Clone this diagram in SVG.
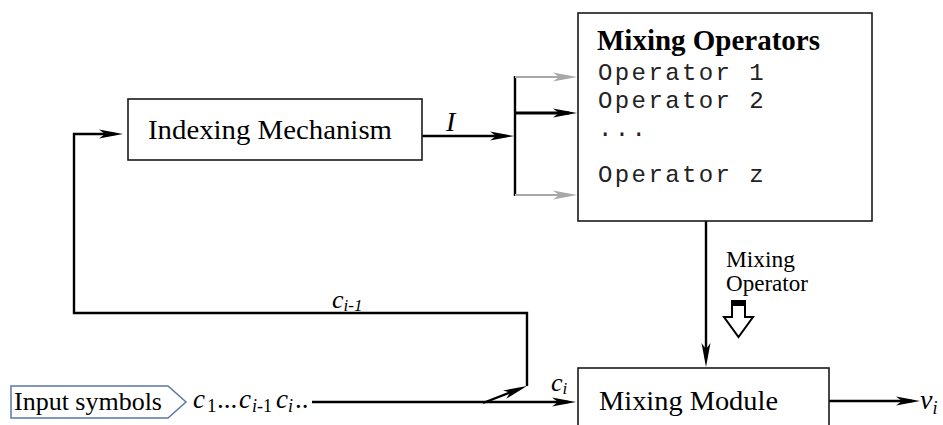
<svg xmlns="http://www.w3.org/2000/svg" width="943" height="425" viewBox="0 0 943 425">
  <style>
    .box { fill: #ffffff; stroke: #1a1a1a; stroke-width: 1.6; }
    .wire { fill: none; stroke: #000000; stroke-width: 2.4; }
    .wire-thick { fill: none; stroke: #000000; stroke-width: 3.2; }
    .wire-gray { fill: none; stroke: #a8a8a8; stroke-width: 2.2; }
    .serif { font-family: "Liberation Serif", "Times New Roman", serif; fill: #000000; }
    .mono { font-family: "Liberation Mono", "Courier New", monospace; fill: #222222; font-size: 24px; letter-spacing: 2.4px; }
    .it { font-style: italic; }
  </style>
  <defs>
    <marker id="ah" viewBox="-24 -5 24 10" refX="-8" refY="0" markerWidth="24" markerHeight="10" markerUnits="userSpaceOnUse" orient="auto">
      <path d="M0,0 L-24,-4.5 L-18,0 L-24,4.5 Z" fill="#000000"/>
    </marker>
    <marker id="ah-gray" viewBox="-24 -5 24 10" refX="-8" refY="0" markerWidth="24" markerHeight="10" markerUnits="userSpaceOnUse" orient="auto">
      <path d="M0,0 L-24,-4.5 L-18,0 L-24,4.5 Z" fill="#a8a8a8"/>
    </marker>
  </defs>

  <rect width="943" height="425" fill="#ffffff"/>

  <!-- connectors -->
  <g id="connectors">
    <!-- index I into the operator selector -->
    <line class="wire" x1="422" y1="136" x2="506" y2="136" marker-end="url(#ah)"/>
    <line class="wire" x1="515" y1="76" x2="515" y2="196"/>
    <line class="wire-gray" x1="515" y1="77" x2="569" y2="77" marker-end="url(#ah-gray)"/>
    <line class="wire-thick" x1="515" y1="113" x2="569" y2="113" marker-end="url(#ah)"/>
    <line class="wire-gray" x1="515" y1="195" x2="569" y2="195" marker-end="url(#ah-gray)"/>
    <!-- selected operator down into the mixing module -->
    <line class="wire" x1="706" y1="221" x2="706" y2="359" marker-end="url(#ah)"/>
    <!-- symbol stream into the mixing module -->
    <line class="wire" x1="312" y1="402" x2="568" y2="402" marker-end="url(#ah)"/>
    <!-- tap of the stream feeding back c(i-1) -->
    <line class="wire" x1="483" y1="403" x2="519.5" y2="388.9" marker-end="url(#ah)"/>
    <path class="wire" d="M527,386 L527,313 L74,313 L74,134 L115,134" marker-end="url(#ah)"/>
    <!-- output -->
    <line class="wire" x1="829" y1="401" x2="912" y2="401" marker-end="url(#ah)"/>
  </g>

  <!-- labels on connectors -->
  <text class="serif it" x="446" y="131" font-size="28">I</text>
  <text class="serif it" x="332" y="308" font-size="26">c<tspan font-size="17" dy="3">i-1</tspan></text>
  <text class="serif it" x="551" y="391" font-size="26">c<tspan font-size="17" dy="3">i</tspan></text>
  <text class="serif it" x="920" y="409" font-size="28">v<tspan font-size="18" dy="5">i</tspan></text>
  <text class="serif" x="726" y="267" font-size="23" textLength="69" lengthAdjust="spacingAndGlyphs">Mixing</text>
  <text class="serif" x="726" y="291" font-size="23" textLength="82" lengthAdjust="spacingAndGlyphs">Operator</text>

  <!-- hollow down arrow marking the operator hand-over -->
  <g id="operator-handover">
    <path d="M732,305 L732,317 L724,317 L738.5,337 L753,317 L745,317 L745,305 Z" fill="#ffffff" stroke="#000000" stroke-width="2"/>
    <rect x="731" y="300" width="15" height="5.5" fill="#000000"/>
  </g>

  <!-- input symbols source -->
  <g id="input-symbols">
    <path d="M11,386 L168,386 L186,402 L168,418 L11,418 Z" fill="#ffffff" stroke="#5a78a8" stroke-width="1.5"/>
    <text class="serif" x="14" y="410" font-size="26" textLength="148" lengthAdjust="spacingAndGlyphs">Input symbols</text>
  </g>
  <g id="symbol-stream">
    <text class="serif it" x="193" y="408" font-size="27">c</text>
    <text class="serif" x="207" y="412" font-size="19">1</text>
    <text class="serif" x="217" y="408" font-size="27">...</text>
    <text class="serif it" x="239" y="408" font-size="27">c</text>
    <text class="serif it" x="252" y="412" font-size="18">i</text>
    <text class="serif" x="257" y="412" font-size="18">-1</text>
    <text class="serif it" x="276" y="408" font-size="27">c</text>
    <text class="serif it" x="288" y="412" font-size="18">i</text>
    <text class="serif" x="295" y="408" font-size="27">..</text>
  </g>

  <!-- nodes -->
  <g id="indexing-mechanism">
    <rect class="box" x="128" y="99" width="294" height="61"/>
    <text class="serif" x="148" y="139" font-size="28" textLength="244" lengthAdjust="spacingAndGlyphs">Indexing Mechanism</text>
  </g>

  <g id="mixing-operators">
    <rect class="box" x="578" y="13" width="294" height="208" stroke-width="2"/>
    <text class="serif" x="597" y="50" font-size="29" font-weight="bold" textLength="223" lengthAdjust="spacingAndGlyphs">Mixing Operators</text>
    <text class="mono" x="598" y="80">Operator 1</text>
    <text class="mono" x="598" y="108">Operator 2</text>
    <text class="mono" x="598" y="136">...</text>
    <text class="mono" x="598" y="182">Operator z</text>
  </g>

  <g id="mixing-module">
    <rect class="box" x="578" y="368" width="251" height="70"/>
    <text class="serif" x="599" y="410" font-size="28" textLength="179" lengthAdjust="spacingAndGlyphs">Mixing Module</text>
  </g>
</svg>
